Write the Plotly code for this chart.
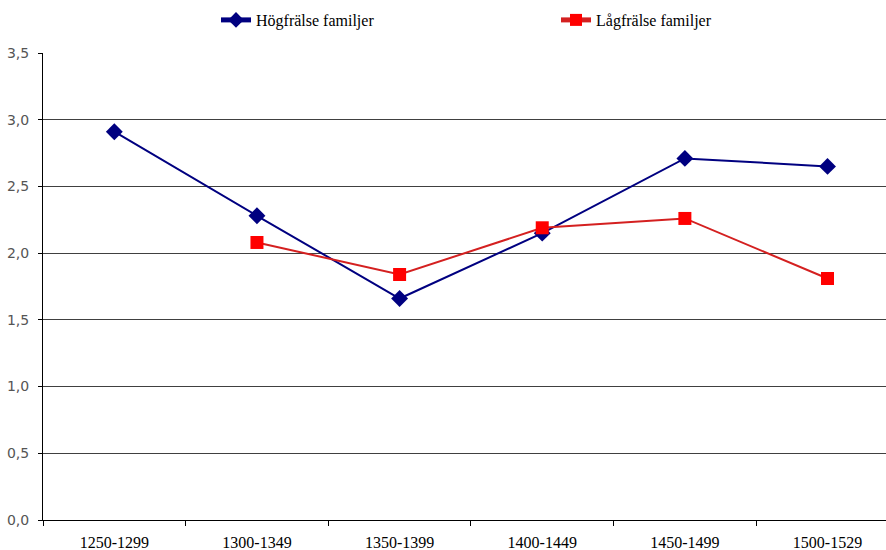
import plotly.graph_objects as go

categories = ["1250-1299", "1300-1349", "1350-1399", "1400-1449", "1450-1499", "1500-1529"]
hog_values = [2.91, 2.28, 1.66, 2.15, 2.71, 2.65]
lag_values = [None, 2.08, 1.84, 2.19, 2.26, 1.81]
y_ticks = [0, 0.5, 1.0, 1.5, 2.0, 2.5, 3.0, 3.5]

fig = go.Figure()
fig.add_trace(go.Scatter(
    x=categories, y=hog_values, name="Högfrälse familjer", mode="lines+markers",
    line=dict(color="#000080", width=2),
    marker=dict(symbol="diamond", size=13, color="#000080"),
    legend="legend",
))
fig.add_trace(go.Scatter(
    x=categories, y=lag_values, name="Lågfrälse familjer", mode="lines+markers",
    line=dict(color="#D42020", width=2),
    marker=dict(symbol="square", size=13, color="#FF0000"),
    legend="legend2",
))

legend_font = dict(family="Liberation Serif", size=16, color="black")
W, H = 886, 550
ml, mr, mt, mb = 43, 0, 53, 30
pw, ph = W - ml - mr, H - mt - mb

def lx(px):
    return (px - ml) / pw

def ly(py):
    return (H - mb - py) / ph

fig.update_layout(
    width=W, height=H,
    margin=dict(l=ml, r=mr, t=mt, b=mb, autoexpand=False),
    paper_bgcolor="white", plot_bgcolor="white",
    separators=",.",
    showlegend=True,
    legend=dict(
        x=lx(216), y=ly(20), xanchor="left", yanchor="middle",
        font=legend_font, itemwidth=30, bgcolor="rgba(0,0,0,0)",
        itemsizing="constant",
    ),
    legend2=dict(
        x=lx(556), y=ly(20), xanchor="left", yanchor="middle",
        font=legend_font, itemwidth=30, bgcolor="rgba(0,0,0,0)",
        itemsizing="constant",
    ),
    xaxis=dict(
        type="category", range=[-0.5, 5.41], automargin=False,
        showline=True, linecolor="black", linewidth=1,
        ticks="outside", tickson="boundaries", ticklen=5, tickcolor="black",
        showgrid=False, ticklabelstandoff=8,
        tickfont=dict(family="Liberation Sans Narrow", size=16, color="black"),
    ),
    yaxis=dict(
        range=[0, 3.5], tickvals=y_ticks, tickformat=".1f", automargin=False,
        showline=True, linecolor="black", linewidth=1,
        ticks="outside", ticklen=4, tickcolor="black",
        showgrid=True, gridcolor="#404040", gridwidth=1,
        zeroline=False, ticklabelstandoff=6,
        tickfont=dict(family="DejaVu Sans", size=14, color="#555555"),
    ),
)

fig.write_html("out.html", config={"displayModeBar": False},
               post_script="document.body.style.margin='0';")
